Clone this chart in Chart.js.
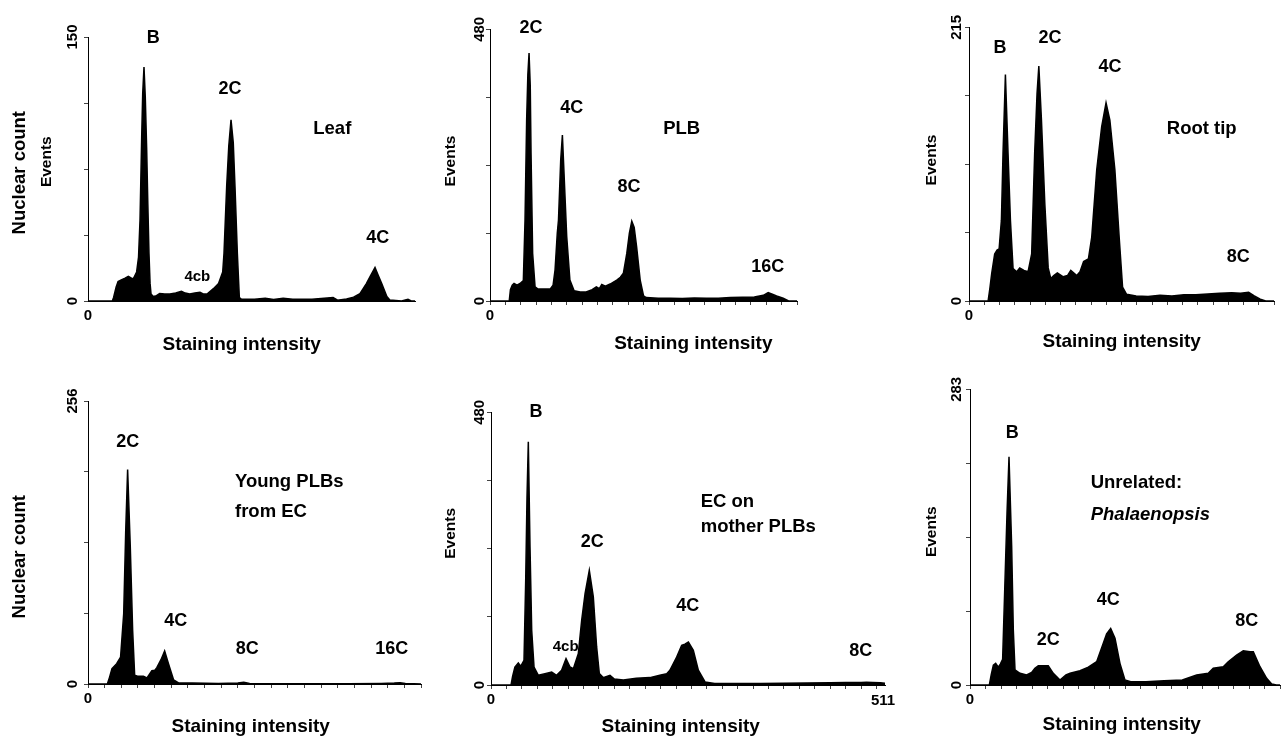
<!DOCTYPE html>
<html><head><meta charset="utf-8">
<script src="https://cdn.jsdelivr.net/npm/chart.js@4.4.0/dist/chart.umd.min.js"></script>
<style>
html,body{margin:0;padding:0;background:#fff;width:1282px;height:737px;overflow:hidden;}
canvas{position:absolute;}
</style></head><body>
<canvas id="c1"></canvas><canvas id="c2"></canvas><canvas id="c3"></canvas>
<canvas id="c4"></canvas><canvas id="c5"></canvas><canvas id="c6"></canvas>
<script>
// ---- data: channel (staining intensity, 0..511) and nuclear count ----
const leafChannel = [0,38,40,44,47,52,58,63,68,71,76,79,81.3,83.9,85.5,87.5,89.5,91.7,93.5,95.3,97,98.5,102,107,112,120,128,137,146,152,159,167,175,180,186,191,196,204,210.5,212.5,216.7,220,223.5,227,229.7,233.4,236.5,240,260,277,290,305,320,350,383,390,404,415,425,435,441,448.5,453,459,467,472,490,500,505,511];
const leafCount   = [0,0,2,8,11,12,13,14,13,12.7,16.5,25,46,93,118,133,116,86,55,27,10,4,2.6,3,4.2,4,4,4.5,5.5,4.5,4,4.5,5,4,4,5.5,7,10,16.5,27,65,88,103,90,65,27,2,1,1,1.5,0.8,1.5,1,1,2,0.5,1.2,2.2,4.2,9.9,14,19,15,9.9,2.6,0.5,0,1,0,0];

const plbChannel = [0,32,34,37,40,45,50,55.5,58.3,61,63,65,67,68.3,71,75,80,90,100,105,108.3,112,114,117.7,120.5,123,127.7,133,140,150,160,170,177,182,186,192,200,211,217,222,227.7,232,236,240,244,250,255.6,260,280,300,320,340,360,380,400,420,440,455,463,470,477,488,497,511];
const plbCount   = [0,0,20,28,31,28,31,36,143,320,400,438,380,261,84,25,21,21,21,28,55,120,143,249,293,231,114,37,18,16,16,20,25,22,29,26,30,37,42,49,84,120,141,130,96,37,9,6,5,5,4.5,5.5,5,5,6,6.5,7,10,14.7,12,9,5,0,0];

const rootChannel = [0,32,35,38,43,47,50.5,54.3,57,61,65.4,69.4,73.8,80,85,92,99,105,110,114,117,121.4,127,132.7,137,142,148,158,165,170.5,180.6,186,192,200,205.6,214,222.3,229.6,236,244.4,251.6,257.3,264,280,300,320,340,360,380,400,420,440,455,468.5,478,488,497,511];
const rootCount   = [0,0,10,21.5,37,40,41,63.5,116,178,116,63.5,25.5,23,26,24,23,37,116,163,184.6,142,76.6,26,17.6,20,22,19,20,24,20,23,31,33,50,103,137,155.7,142,103,50,11,5.3,4,3.5,4.5,4,5,5,5.5,6,6.5,6,6.8,4,1.5,0,0];

const youngChannel = [0,29.7,33,36.8,44,50,54.8,57.9,60.8,64.9,68.5,71.6,76,85,90.5,98,102.6,105.6,112,117.6,123.5,131.4,139,160,200,230,239,248,300,350,400,450,470,479,487,500,511];
const youngCount   = [0,0,6,13.9,18.4,24.4,63.7,139,194,124,48.6,7.9,7,7,5.5,12,12.4,14.8,22,29.9,18.4,3.6,1,0.8,0.5,0.8,1.5,0.5,0.3,0.3,0.3,0.5,0.8,1.2,0.5,0.2,0];

const ecChannel = [0,26,28,31,35.4,38.5,42.8,45,46.7,48.4,50.6,52.8,55.8,61.4,70,78.7,85,91.6,97.3,102.5,106.8,113.2,117.6,122,127.5,132.7,137,140.5,145.5,154.3,160,171.6,188.5,206,219,227.9,232,240.8,247.3,251.5,256,262.4,268.9,277.6,290,320,350,380,410,440,460,480,487,495,505,511];
const ecCount   = [0,0,15,31.7,38.8,33,43.5,184.5,331,428,243,96,31.7,17,20,22.9,17,26,46.5,31.7,28.8,55,114,161,202,155,67,20,13,17,10.6,8.8,11.7,13,17,20,26,49,70,72,75.8,61,26,5.3,2.5,2.5,2.5,3,3.5,4,4.5,4.5,5,4.5,4,3];

const phalChannel = [0,31.9,35,38.5,42.3,46.7,50,53.8,57.7,61,64.3,68.7,71.4,74.2,82.4,93.4,101.6,107,112.6,129,137.3,148.3,158.2,165,181.3,195,208.8,219.7,225.2,231.9,239,247.2,255.4,265,290,320,350,373.6,392.8,401,417.5,425.7,439.5,450.5,461.5,467,478,489,497.3,505,511];
const phalCount   = [0,0,10,19,20.7,17,20,24.6,100.5,164,218.5,132,52.6,14.4,11.2,9.6,12,16,18.5,18.5,11.2,4.8,9.6,11.2,13.7,17,22.3,40,49,54.2,44.7,20.7,4.8,3.2,3.2,4,4.8,9.6,11.2,16,17.5,22.3,28.7,32.8,31.9,31.9,17.5,6.4,1,0,0];

// y-axis maxima (tick labels)
const yMaxima = [150, 480, 215, 256, 480, 283];
const xMax = 511;

// ---- layout ----
const FONT = '"Liberation Sans", Arial, Helvetica, sans-serif';
const R = {rot:true}, LEFT = {align:'left'}, LI = {align:'left', italic:true};
const panels = [
 {id:'c1', box:[0,0,430,368], area:{l:88,r:415,t:37,b:301}, ch:leafChannel, cnt:leafCount, yMax:yMaxima[0], yLabX:72.7, xTicks:'none',
  texts:[['B',153.3,38.3,18],['2C',230,89,18],['Leaf',332.3,129,18.5],['4C',377.7,238.3,18],['4cb',197.3,277.3,15],
         ['Nuclear count',20,172.7,18.5,R],['Events',46.7,161.7,15.5,R],['Staining intensity',241.7,345,19]]},
 {id:'c2', box:[430,0,470,368], area:{l:490,r:797,t:29.3,b:301}, ch:plbChannel, cnt:plbCount, yMax:yMaxima[1], yLabX:480, xTicks:'twenty',
  texts:[['2C',531,28.3,18],['4C',571.7,108.3,18],['PLB',681.7,129,18.5],['8C',629,187.3,18],['16C',767.7,267.3,18],
         ['Events',450.7,161,15.5,R],['Staining intensity',693.3,343.3,19]]},
 {id:'c3', box:[900,0,382,368], area:{l:969,r:1274,t:27.3,b:301}, ch:rootChannel, cnt:rootCount, yMax:yMaxima[2], yLabX:956.7, xTicks:'twenty',
  texts:[['B',1000,48.3,18],['2C',1050,38.3,18],['4C',1110,67.3,18],['Root tip',1201.7,129,18.5],['8C',1238.3,257.3,18],
         ['Events',931.7,160,15.5,R],['Staining intensity',1121.7,341.7,19]]},
 {id:'c4', box:[0,368,430,369], area:{l:88,r:421,t:401,b:684}, ch:youngChannel, cnt:youngCount, yMax:yMaxima[3], yLabX:72.7, xTicks:'twenty',
  texts:[['2C',127.7,441.7,18],['Young PLBs',235,481.7,18.5,LEFT],['from EC',235,511.7,18.5,LEFT],['4C',175.7,620.7,18],
         ['8C',247.3,649.3,18],['16C',391.7,649.3,18],['Nuclear count',20,556.7,18.5,R],['Staining intensity',250.7,726.7,19]]},
 {id:'c5', box:[430,368,470,369], area:{l:491,r:885,t:412.3,b:685}, ch:ecChannel, cnt:ecCount, yMax:yMaxima[4], yLabX:480, xTicks:'step20', xEndLabel:'511',
  texts:[['B',536,412.3,18],['EC on',700.7,501.7,18.5,LEFT],['mother PLBs',700.7,527.3,18.5,LEFT],['2C',592.3,542.3,18],
         ['4C',687.7,606,18],['4cb',565.7,646.7,15],['8C',860.7,650.7,18],['Events',450.7,533.3,15.5,R],['Staining intensity',680.7,726.7,19]]},
 {id:'c6', box:[900,368,382,369], area:{l:970,r:1280,t:389.3,b:685}, ch:phalChannel, cnt:phalCount, yMax:yMaxima[5], yLabX:956.7, xTicks:'twenty',
  texts:[['B',1012.3,432.7,18],['Unrelated:',1090.7,483.3,18.5,LEFT],['Phalaenopsis',1090.7,515,18.5,LI],['2C',1048.3,640,18],
         ['4C',1108.3,600,18],['8C',1246.7,620.7,18],['Events',931.7,531.7,15.5,R],['Staining intensity',1121.7,725,19]]}
];

function drawText(ctx, t, x, y, size, o) {
  o = o || {};
  ctx.save();
  ctx.fillStyle = '#000';
  ctx.font = (o.italic ? 'italic ' : '') + 'bold ' + size + 'px ' + FONT;
  ctx.textAlign = o.align || 'center';
  ctx.textBaseline = 'middle';
  ctx.translate(x, y);
  if (o.rot) ctx.rotate(-Math.PI / 2);
  ctx.fillText(t, 0, 0);
  ctx.restore();
}

const AXW = 6; // forced axis thickness
panels.forEach(p => {
  const [ox, oy, w, h] = p.box;
  const cv = document.getElementById(p.id);
  cv.style.left = ox + 'px'; cv.style.top = oy + 'px';
  cv.width = w; cv.height = h;
  const pad = {
    left: p.area.l - ox - AXW,
    right: w - (p.area.r - ox),
    top: p.area.t - oy,
    bottom: h - (p.area.b - oy) - AXW
  };
  let xt = [];
  if (p.xTicks === 'twenty') { for (let i = 0; i <= 20; i++) xt.push(i * xMax / 20); }
  else if (p.xTicks === 'step20') { for (let v = 0; v <= xMax; v += 20) xt.push(v); }
  const textPlugin = {
    id: 'panelText',
    afterDraw(chart) {
      const ctx = chart.ctx;
      const ys = chart.scales.y, xs = chart.scales.x;
      p.texts.forEach(a => drawText(ctx, a[0], a[1] - ox, a[2] - oy, a[3], a[4]));
      // tick labels
      drawText(ctx, String(p.yMax), p.yLabX - ox, ys.getPixelForValue(p.yMax), 15, {rot:true});
      drawText(ctx, '0', p.yLabX - ox, ys.getPixelForValue(0), 15, {rot:true});
      drawText(ctx, '0', xs.getPixelForValue(0), ys.getPixelForValue(0) + 15, 15);
      if (p.xEndLabel) drawText(ctx, p.xEndLabel, xs.getPixelForValue(xMax) - 2, ys.getPixelForValue(0) + 15.5, 15);
    }
  };
  const gridOpts = {display:true, drawOnChartArea:false, drawTicks:true, tickLength:4, color:'#444', lineWidth:1};
  new Chart(cv, {
    type: 'line',
    data: {
      datasets: [{
        data: p.ch.map((c, i) => ({x: c, y: p.cnt[i]})),
        fill: 'origin',
        backgroundColor: '#000',
        borderColor: '#000',
        borderWidth: 1.5,
        pointRadius: 0,
        tension: 0
      }]
    },
    options: {
      responsive: false,
      animation: false,
      devicePixelRatio: 1,
      layout: {padding: pad},
      plugins: {legend:{display:false}, tooltip:{enabled:false}, title:{display:false}},
      events: [],
      scales: {
        x: {
          type: 'linear', min: 0, max: xMax,
          afterBuildTicks(s) { s.ticks = xt.map(v => ({value: v})); },
          afterFit(s) { s.height = AXW; },
          ticks: {display:false},
          grid: gridOpts,
          border: {display:true, color:'#000', width:1}
        },
        y: {
          type: 'linear', min: 0, max: p.yMax,
          afterBuildTicks(s) { s.ticks = [0, 0.25, 0.5, 0.75, 1].map(f => ({value: f * p.yMax})); },
          afterFit(s) { s.width = AXW; },
          ticks: {display:false},
          grid: gridOpts,
          border: {display:true, color:'#000', width:1}
        }
      }
    },
    plugins: [textPlugin]
  });
});
</script>
</body></html>
